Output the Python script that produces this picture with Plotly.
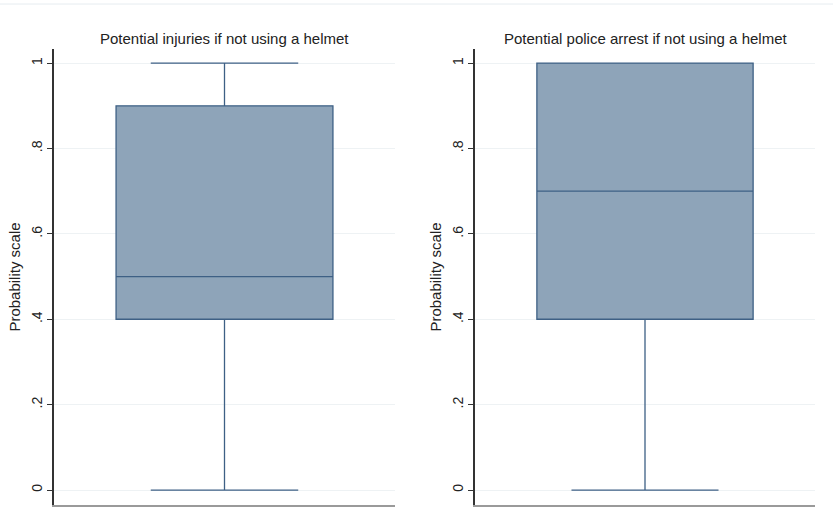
import plotly.graph_objects as go

titles = ["Potential injuries if not using a helmet", "Potential police arrest if not using a helmet"]
q1 = [0.4, 0.4]
median = [0.5, 0.7]
q3 = [0.9, 1.0]
lower = [0.0, 0.0]
upper = [1.0, 1.0]
tick_vals = [0, 0.2, 0.4, 0.6, 0.8, 1]
tick_text = ["0", ".2", ".4", ".6", ".8", "1"]

W, H = 833, 528
FONT = "Liberation Sans, Arial"
fig = go.Figure()

x_domains = [(54 / W, 395 / W), (475 / W, 815 / W)]
y_dom = (1 - 505 / H, 1 - 49 / H)

for i in range(2):
    xa = "x" if i == 0 else "x2"
    ya = "y" if i == 0 else "y2"
    fig.add_trace(go.Box(
        x=[0], q1=[q1[i]], median=[median[i]], q3=[q3[i]],
        lowerfence=[lower[i]], upperfence=[upper[i]],
        width=0.636, whiskerwidth=0.68,
        fillcolor="#8EA4B9", line=dict(color="#3E6085", width=1.3),
        boxpoints=False, hoverinfo="skip", showlegend=False,
        xaxis=xa, yaxis=ya,
    ))
    axkey = "xaxis" if i == 0 else "xaxis2"
    aykey = "yaxis" if i == 0 else "yaxis2"
    fig.layout[axkey] = dict(
        domain=list(x_domains[i]), range=[-0.5, 0.5], showticklabels=False,
        showgrid=False, zeroline=False, showline=True, linecolor="#9a9a9a",
        linewidth=2, ticks="", anchor=ya, fixedrange=True,
    )
    fig.layout[aykey] = dict(
        domain=list(y_dom), range=[-0.035, 1.033], anchor=xa,
        tickvals=tick_vals, ticktext=tick_text, tickangle=-90,
        ticks="outside", ticklen=5, tickcolor="#333333", tickwidth=1,
        showline=True, linecolor="#333333", linewidth=1.5,
        showgrid=True, gridcolor="#EEF2F4", gridwidth=1, zeroline=False,
        tickfont=dict(family=FONT, size=14, color="#222222"),
        title=dict(text="Probability scale", standoff=4,
                   font=dict(family=FONT, size=15, color="#222222")),
    )
    fig.add_annotation(
        x=(x_domains[i][0] + x_domains[i][1]) / 2, y=1 - 38 / H,
        xref="paper", yref="paper", text=titles[i], showarrow=False,
        font=dict(family=FONT, size=15, color="#222222"),
        xanchor="center", yanchor="middle",
    )

fig.add_shape(type="line", xref="paper", yref="paper", x0=0, x1=1,
              y0=1 - 4 / H, y1=1 - 4 / H, line=dict(color="#E6ECF0", width=1))

fig.update_layout(
    width=W, height=H, margin=dict(l=0, r=0, t=0, b=0),
    paper_bgcolor="white", plot_bgcolor="white",
)

fig.write_html("out.html", config={"displayModeBar": False},
               post_script="document.body.style.margin='0px';")
